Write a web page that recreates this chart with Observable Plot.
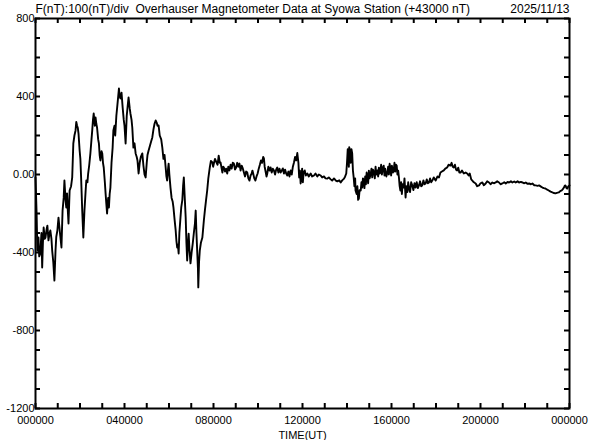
<!DOCTYPE html>
<html><head><meta charset="utf-8">
<script src="https://cdn.jsdelivr.net/npm/d3@7"></script>
<script src="https://cdn.jsdelivr.net/npm/@observablehq/plot@0.6"></script>
<style>body{margin:0;background:#fff}</style>
</head><body><div id="chart"></div>
<script>
// Texts
const titleLeft = "F(nT):100(nT)/div  Overhauser Magnetometer Data at Syowa Station (+43000 nT)";
const titleRight = "2025/11/13";
const xLabel = "TIME(UT)";

// Tick labels
const yTickValues = [800, 400, 0, -400, -800, -1200];
const yTickLabels = ["800", "400", "0.00", "-400", "-800", "-1200"];
const xTickHours = [0, 4, 8, 12, 16, 20, 24];
const xTickLabels = ["000000", "040000", "080000", "120000", "160000", "200000", "000000"];
const yMinorTicks = d3.range(-1200, 801, 100);
const xMinorTicks = d3.range(0, 25, 1);

// Series: [minutes UT, F - 43000 nT]
const fSeries = [
[0,-15],[3,-200],[5,-390],[8,-323],[10,-420],[13,-405],[16,-300],[18,-477],[20,-350],[22,-272],[25,-330],[27,-323],[30,-280],[32,-262],[35,-338],[38,-300],[40,-287],[43,-330],[45,-390],[48,-450],[51,-544],[54,-390],[56,-320],[59,-287],[62,-221],[66,-300],[70,-374],[73,-185],[76,-120],[78,-31],[81,-130],[83,-169],[85,-97],[87,-180],[89,-251],[92,-82],[96,-60],[99,-15],
[102,159],[105,200],[108,226],[110,270],[112,251],[114,240],[116,210],[119,123],[121,80],[123,-15],[126,-185],[129,-323],[132,-185],[135,-90],[137,-31],[140,-40],[142,5],[145,50],[148,108],[151,180],[153,226],[155,280],[157,313],[160,250],[162,292],[164,260],[166,241],[169,180],[171,159],[173,100],[175,72],[178,120],[180,108],[182,60],[184,36],[187,-40],[189,-97],[191,-150],[193,-200],[196,-120],[198,-169],[200,-100],
[202,-67],[205,60],[208,138],[210,226],[213,250],[215,200],[218,300],[221,360],[225,441],[227,400],[229,390],[232,420],[235,344],[238,280],[240,250],[243,159],[246,300],[249,360],[251,395],[254,340],[256,313],[259,280],[261,241],[264,138],[267,160],[270,108],[273,90],[275,72],[278,5],[281,60],[284,90],[288,108],[291,46],[294,0],[297,-15],[300,60],
[302,100],[305,123],[309,150],[312,170],[315,190],[318,230],[321,260],[324,277],[327,265],[329,250],[332,251],[335,200],[339,180],[342,138],[345,80],[348,100],[351,36],[353,-10],[355,-31],[357,20],[359,56],[361,0],[364,-67],[367,-120],[370,-140],[372,-169],[375,-230],[378,-287],[380,-340],[382,-374],[384,-360],[386,-405],[388,-300],[391,-220],[393,-169],[396,-130],[398,-60],[400,-15],
[402,-100],[405,-221],[407,-350],[409,-441],[411,-360],[413,-303],[415,-380],[418,-456],[421,-400],[424,-354],[427,-300],[430,-250],[432,-185],[434,-300],[436,-390],[438,-480],[439,-579],[441,-450],[443,-390],[446,-350],[450,-323],[452,-280],[454,-236],[457,-180],[460,-130],[463,-82],[466,-20],[470,36],[473,70],[477,62],[479,40],[481,56],[484,80],[488,62],[491,50],[494,97],[497,60],[499,62],
[502,30],[504,10],[506,40],[508,36],[511,15],[514,30],[517,5],[520,40],[523,21],[526,50],[529,30],[532,60],[535,56],[538,25],[541,36],[544,60],[547,40],[550,56],[553,20],[556,45],[559,31],[562,10],[565,-10],[568,15],[571,10],[574,-20],[577,-31],[580,-5],[583,5],[585,20],[587,5],[590,-20],[593,-31],[596,-10],[599,5],
[602,30],[605,50],[608,72],[611,60],[614,90],[616,82],[618,40],[621,10],[623,-10],[625,5],[628,40],[631,20],[634,36],[637,10],[640,30],[643,21],[646,0],[649,25],[652,36],[655,10],[658,30],[661,10],[664,20],[667,31],[670,5],[673,25],[676,5],[679,-5],[682,15],[685,-10],[688,21],[691,0],[694,40],[697,62],[700,90],
[703,72],[706,110],[709,60],[711,-15],[713,20],[715,-46],[717,-20],[719,30],[721,-40],[723,10],[726,21],[729,-5],[733,5],[737,-10],[742,5],[746,-10],[751,-5],[755,5],[760,-10],[764,0],[769,-5],[773,-15],[778,-10],[782,-20],[787,-21],[791,-15],[796,-25],[800,-31],
[805,-20],[810,-31],[814,-35],[819,-30],[823,-41],[827,-30],[832,-21],[835,-10],[838,5],[840,60],[842,130],[843,108],[845,40],[846,140],[848,123],[850,60],[852,130],[854,108],[856,20],[858,-15],[860,-60],[862,-20],[863,-82],[866,-100],[868,-60],[870,-130],[872,-123],[874,-80],
[877,-82],[879,-40],[881,-67],[883,-20],[885,-31],[887,-70],[889,-10],[891,-50],[893,10],[895,-15],[897,-45],[899,20],[901,-20],[904,5],[906,30],[908,-15],[910,25],[913,10],[915,-20],[917,40],[919,0],[922,21],[924,-10],[926,35],[928,5],[930,10],[932,50],[934,0],[937,36],[939,45],[941,-5],[943,30],[946,-10],[949,10],[951,40],[953,0],[955,55],[957,31],[959,-5],[961,45],[964,10],[966,21],[968,60],[970,15],[972,50],[974,46],[976,0],[978,20],[980,-15],[982,-60],[984,-82],[986,-40],[988,-100],[990,-50],[993,-67],[995,-20],[998,-118],
[1000,-60],[1003,-90],[1005,-40],[1007,-67],[1010,-90],[1013,-40],[1016,-56],[1019,-80],[1022,-45],[1025,-67],[1028,-40],[1031,-70],[1034,-56],[1037,-35],[1040,-60],[1043,-56],[1046,-30],[1049,-50],[1052,-46],[1055,-25],[1058,-45],[1061,-41],[1064,-20],[1067,-40],[1070,-31],[1074,-15],[1079,-31],[1084,-10],[1088,-15],[1092,10],[1096,15],
[1101,21],[1105,30],[1110,36],[1114,50],[1119,46],[1122,60],[1125,40],[1128,36],[1131,50],[1134,25],[1137,21],[1140,35],[1143,10],[1146,10],[1150,20],[1155,5],[1160,10],[1164,5],[1168,-5],[1171,5],[1175,-25],[1178,-31],[1182,-40],[1187,-46],[1191,-60],[1196,-56],
[1200,-45],[1205,-41],[1209,-55],[1214,-46],[1218,-35],[1223,-41],[1227,-50],[1232,-41],[1236,-45],[1241,-41],[1245,-35],[1250,-41],[1254,-50],[1259,-46],[1264,-40],[1268,-46],[1273,-38],[1277,-41],[1282,-35],[1286,-41],[1291,-36],[1295,-41],
[1300,-35],[1304,-41],[1309,-38],[1313,-41],[1318,-45],[1322,-41],[1327,-48],[1331,-46],[1336,-50],[1340,-46],[1345,-55],[1349,-56],[1354,-58],[1358,-56],[1363,-62],[1367,-67],[1371,-70],[1375,-72],[1380,-78],[1384,-82],[1389,-88],[1394,-92],[1398,-95],
[1402,-97],[1406,-94],[1411,-92],[1415,-85],[1419,-82],[1422,-75],[1425,-67],[1427,-58],[1429,-56],[1432,-70],[1434,-72],[1437,-60],[1440,-56]
];

const W = 592, H = 440, ML = 35, MR = 23, MT = 18, MB = 32;
const PW = W - ML - MR, PH = H - MT - MB, TICK = 5;
const data = fSeries.map(([m, v]) => ({hour: m / 60, value: v}));

const chart = Plot.plot({
  width: W, height: H,
  marginLeft: ML, marginRight: MR, marginTop: MT, marginBottom: MB,
  style: {fontFamily: "'Liberation Sans', Arial, sans-serif", fontSize: "12px", background: "#fff", color: "#000"},
  x: {domain: [0, 24]},
  y: {domain: [-1200, 800]},
  marks: [
    Plot.line(data, {x: "hour", y: "value", stroke: "#000", strokeWidth: 1.9}),
    Plot.tickY(yMinorTicks, {y: d => d, insetRight: PW - TICK, stroke: "#000", strokeWidth: 2}),
    Plot.tickY(yMinorTicks, {y: d => d, insetLeft: PW - TICK, stroke: "#000", strokeWidth: 2}),
    Plot.tickX(xMinorTicks, {x: d => d, insetTop: PH - TICK, stroke: "#000", strokeWidth: 2}),
    Plot.tickX(xMinorTicks, {x: d => d, insetBottom: PH - TICK, stroke: "#000", strokeWidth: 2}),
    Plot.frame({stroke: "#000", strokeWidth: 2}),
    Plot.axisY(yTickValues, {tickSize: 0, tickPadding: 1, label: null, fontSize: 11,
      tickFormat: d => yTickLabels[yTickValues.indexOf(d)]}),
    Plot.axisX(xTickHours, {tickSize: 0, tickPadding: 8, fontSize: 11,
      tickFormat: d => xTickLabels[xTickHours.indexOf(d)],
      label: xLabel, labelAnchor: "center", labelArrow: "none", labelOffset: 30}),
    Plot.text([titleLeft], {frameAnchor: "top-left", dy: -9, text: d => d, textAnchor: "start", lineAnchor: "middle", fill: "#000"}),
    Plot.text([titleRight], {frameAnchor: "top-right", dy: -9, text: d => d, textAnchor: "end", lineAnchor: "middle", fill: "#000"})
  ]
});
document.getElementById("chart").appendChild(chart);
</script>
</body></html>
